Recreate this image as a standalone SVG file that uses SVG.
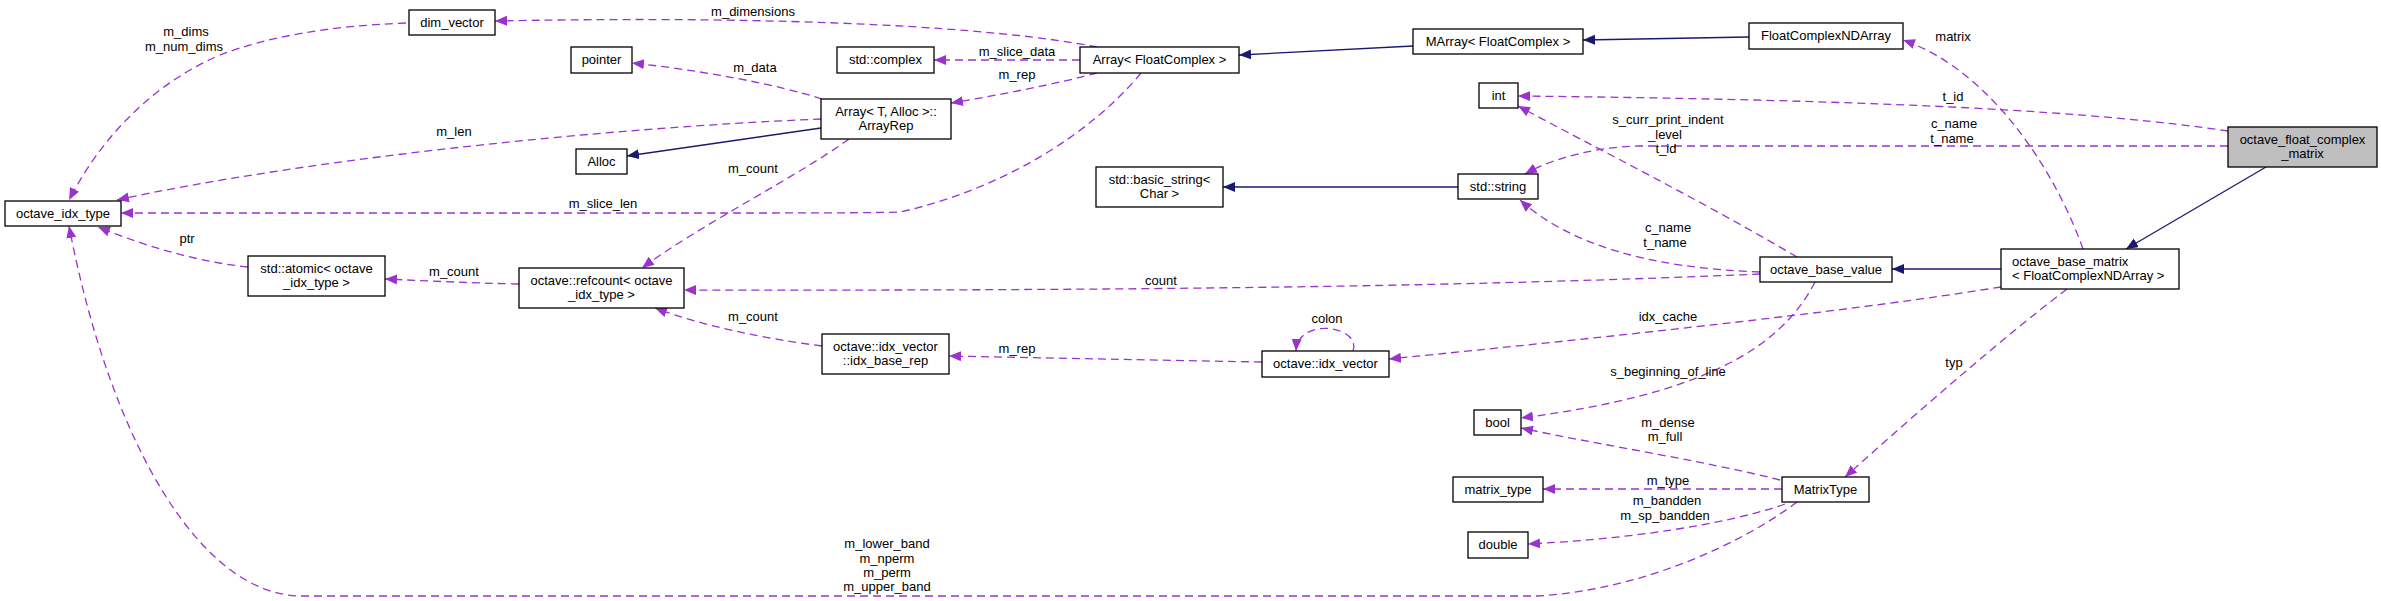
<svg xmlns="http://www.w3.org/2000/svg" width="2381" height="601" viewBox="0 0 2381 601">
<style>
text{font-family:"Liberation Sans",Arial,sans-serif;font-size:13px;fill:#000}
.c{text-anchor:middle}
.node rect{fill:#fff;stroke:#000;stroke-width:1.3}
.node.root rect{fill:#bfbfbf}
.e{fill:none;stroke:#9a32cd;stroke-width:1.3;stroke-dasharray:8,5}
.i{fill:none;stroke:#191970;stroke-width:1.3}
</style>
<defs>
<marker id="ap" markerUnits="userSpaceOnUse" markerWidth="13" markerHeight="11" refX="12" refY="5" orient="auto"><path d="M0,0 L12,5 L0,10 Z" fill="#9a32cd" stroke="none"/></marker>
<marker id="an" markerUnits="userSpaceOnUse" markerWidth="13" markerHeight="11" refX="12" refY="5" orient="auto"><path d="M0,0 L12,5 L0,10 Z" fill="#191970" stroke="none"/></marker>
</defs>
<rect width="2381" height="601" fill="#fff"/>
<g id="connectors">
<path class="e" marker-end="url(#ap)" d="M406,23 C330,26 270,36 220,55 C150,85 100,140 69,200"/>
<text class="c" x="186" y="36">m_dims</text>
<text class="c" x="184" y="51">m_num_dims</text>
<path class="e" marker-end="url(#ap)" d="M821,119 C600,128 300,160 117,200"/>
<text class="c" x="454" y="136">m_len</text>
<path class="e" marker-end="url(#ap)" d="M1141,73 C1090,135 1000,190 900,212 C870,213 800,213 700,213 L121,213"/>
<text class="c" x="603" y="208">m_slice_len</text>
<path class="e" marker-end="url(#ap)" d="M248,267 C200,262 150,248 98,227"/>
<text class="c" x="187" y="243">ptr</text>
<path class="e" marker-end="url(#ap)" d="M519,284 C470,283 430,281 385,279"/>
<text class="c" x="454" y="276">m_count</text>
<path class="e" marker-end="url(#ap)" d="M1797,502 C1740,545 1640,590 1537,596 L302,596 C200,596 110,440 69,226"/>
<text class="c" x="887" y="548">m_lower_band</text>
<text class="c" x="887" y="563">m_nperm</text>
<text class="c" x="887" y="577">m_perm</text>
<text class="c" x="887" y="591">m_upper_band</text>
<path class="e" marker-end="url(#ap)" d="M1097,47 C1000,28 800,15 495,21"/>
<text class="c" x="753" y="16">m_dimensions</text>
<path class="e" marker-end="url(#ap)" d="M1080,60 L934,60"/>
<text class="c" x="1017" y="56">m_slice_data</text>
<path class="e" marker-end="url(#ap)" d="M1097,73 C1060,83 1000,95 951,103"/>
<text class="c" x="1017" y="79">m_rep</text>
<path class="e" marker-end="url(#ap)" d="M822,99 C780,85 700,70 632,63"/>
<text class="c" x="755" y="72">m_data</text>
<path class="e" marker-end="url(#ap)" d="M849,139 C800,175 700,225 642,268"/>
<text class="c" x="753" y="173">m_count</text>
<path class="e" marker-end="url(#ap)" d="M822,346 C760,338 700,325 655,308"/>
<text class="c" x="753" y="321">m_count</text>
<path class="e" marker-end="url(#ap)" d="M1262,362 C1150,360 1050,358 949,356"/>
<text class="c" x="1017" y="353">m_rep</text>
<path class="e" marker-end="url(#ap)" d="M1760,274 C1500,285 1200,291 684,290"/>
<text class="c" x="1161" y="285">count</text>
<path class="e" marker-end="url(#ap)" d="M2228,131 C2100,112 1900,100 1518,96"/>
<text class="c" x="1953" y="101">t_id</text>
<path class="e" marker-end="url(#ap)" d="M2228,146 L1640,146 C1590,147 1550,160 1525,174"/>
<text class="c" x="1954" y="128">c_name</text>
<text class="c" x="1952" y="143">t_name</text>
<path class="e" marker-end="url(#ap)" d="M1797,257 C1700,200 1600,150 1518,106"/>
<text class="c" x="1668" y="124">s_curr_print_indent</text>
<text class="c" x="1665" y="139">_level</text>
<text class="c" x="1666" y="153">t_id</text>
<path class="e" marker-end="url(#ap)" d="M1760,272 C1650,268 1570,245 1520,200"/>
<text class="c" x="1668" y="232">c_name</text>
<text class="c" x="1665" y="247">t_name</text>
<path class="e" marker-end="url(#ap)" d="M2083,249 C2055,170 1990,70 1903,40"/>
<text class="c" x="1953" y="41">matrix</text>
<path class="e" marker-end="url(#ap)" d="M2001,287 C1900,303 1750,323 1389,359"/>
<text class="c" x="1668" y="321">idx_cache</text>
<path class="e" marker-end="url(#ap)" d="M1815,282 C1780,350 1700,395 1521,418"/>
<text class="c" x="1668" y="376">s_beginning_of_line</text>
<path class="e" marker-end="url(#ap)" d="M1780,480 C1700,460 1600,445 1521,428"/>
<text class="c" x="1668" y="427">m_dense</text>
<text class="c" x="1665" y="441">m_full</text>
<path class="e" marker-end="url(#ap)" d="M1782,489 L1543,489"/>
<text class="c" x="1668" y="485">m_type</text>
<path class="e" marker-end="url(#ap)" d="M1785,504 C1740,520 1650,538 1528,544"/>
<text class="c" x="1667" y="505">m_bandden</text>
<text class="c" x="1665" y="520">m_sp_bandden</text>
<path class="e" marker-end="url(#ap)" d="M2067,289 C2000,340 1920,410 1845,477"/>
<text class="c" x="1954" y="367">typ</text>
<path class="e" marker-end="url(#ap)" d="M1353,351 C1362,326 1298,316 1296,351"/>
<text class="c" x="1327" y="323">colon</text>
<path class="i" marker-end="url(#an)" d="M1413,46 L1239,55"/>
<path class="i" marker-end="url(#an)" d="M1749,37 L1583,40"/>
<path class="i" marker-end="url(#an)" d="M821,128 L627,156"/>
<path class="i" marker-end="url(#an)" d="M1458,187 L1223,187"/>
<path class="i" marker-end="url(#an)" d="M2266,167 L2126,249"/>
<path class="i" marker-end="url(#an)" d="M2001,269 L1892,269"/>
</g>
<g id="dim_vector" class="node"><rect x="409" y="10" width="86" height="25"/><text class="c" x="452" y="27">dim_vector</text></g>
<g id="pointer" class="node"><rect x="571" y="47" width="61" height="26"/><text class="c" x="601.5" y="64">pointer</text></g>
<g id="std_complex" class="node"><rect x="837" y="47" width="97" height="26"/><text class="c" x="885.5" y="64">std::complex</text></g>
<g id="Array_FloatComplex" class="node"><rect x="1080" y="47" width="159" height="26"/><text class="c" x="1159.5" y="64">Array&lt; FloatComplex &gt;</text></g>
<g id="MArray_FloatComplex" class="node"><rect x="1413" y="29" width="170" height="25"/><text class="c" x="1498" y="46">MArray&lt; FloatComplex &gt;</text></g>
<g id="FloatComplexNDArray" class="node"><rect x="1749" y="23" width="154" height="26"/><text class="c" x="1826" y="40">FloatComplexNDArray</text></g>
<g id="int" class="node"><rect x="1479" y="83" width="39" height="25"/><text class="c" x="1498.5" y="100">int</text></g>
<g id="Alloc" class="node"><rect x="576" y="149" width="51" height="25"/><text class="c" x="601.5" y="166">Alloc</text></g>
<g id="ArrayRep" class="node"><rect x="821" y="99" width="130" height="40"/><text class="c" x="886" y="116">Array&lt; T, Alloc &gt;::</text><text class="c" x="886" y="130">ArrayRep</text></g>
<g id="octave_idx_type" class="node"><rect x="5" y="201" width="116" height="25"/><text class="c" x="63" y="218">octave_idx_type</text></g>
<g id="std_basic_string" class="node"><rect x="1096" y="167" width="127" height="40"/><text class="c" x="1159.5" y="184">std::basic_string&lt;</text><text class="c" x="1159.5" y="198">Char &gt;</text></g>
<g id="std_string" class="node"><rect x="1458" y="174" width="80" height="25"/><text class="c" x="1498" y="191">std::string</text></g>
<g id="octave_float_complex_matrix" class="node root"><rect x="2228" y="127" width="149" height="40"/><text class="c" x="2302.5" y="144">octave_float_complex</text><text class="c" x="2302.5" y="158">_matrix</text></g>
<g id="octave_base_value" class="node"><rect x="1760" y="257" width="132" height="25"/><text class="c" x="1826" y="274">octave_base_value</text></g>
<g id="octave_base_matrix" class="node"><rect x="2001" y="249" width="178" height="40"/><text x="2012" y="266">octave_base_matrix</text><text x="2012" y="280">&lt; FloatComplexNDArray &gt;</text></g>
<g id="std_atomic" class="node"><rect x="248" y="256" width="137" height="40"/><text class="c" x="316.5" y="273">std::atomic&lt; octave</text><text class="c" x="316.5" y="287">_idx_type &gt;</text></g>
<g id="octave_refcount" class="node"><rect x="519" y="268" width="165" height="40"/><text class="c" x="601.5" y="285">octave::refcount&lt; octave</text><text class="c" x="601.5" y="299">_idx_type &gt;</text></g>
<g id="idx_base_rep" class="node"><rect x="822" y="334" width="127" height="40"/><text class="c" x="885.5" y="351">octave::idx_vector</text><text class="c" x="885.5" y="365">::idx_base_rep</text></g>
<g id="idx_vector" class="node"><rect x="1262" y="351" width="127" height="26"/><text class="c" x="1325.5" y="368">octave::idx_vector</text></g>
<g id="bool" class="node"><rect x="1474" y="410" width="47" height="25"/><text class="c" x="1497.5" y="427">bool</text></g>
<g id="matrix_type" class="node"><rect x="1453" y="477" width="90" height="25"/><text class="c" x="1498" y="494">matrix_type</text></g>
<g id="MatrixType" class="node"><rect x="1782" y="477" width="87" height="25"/><text class="c" x="1825.5" y="494">MatrixType</text></g>
<g id="double" class="node"><rect x="1468" y="532" width="60" height="26"/><text class="c" x="1498" y="549">double</text></g>
</svg>
